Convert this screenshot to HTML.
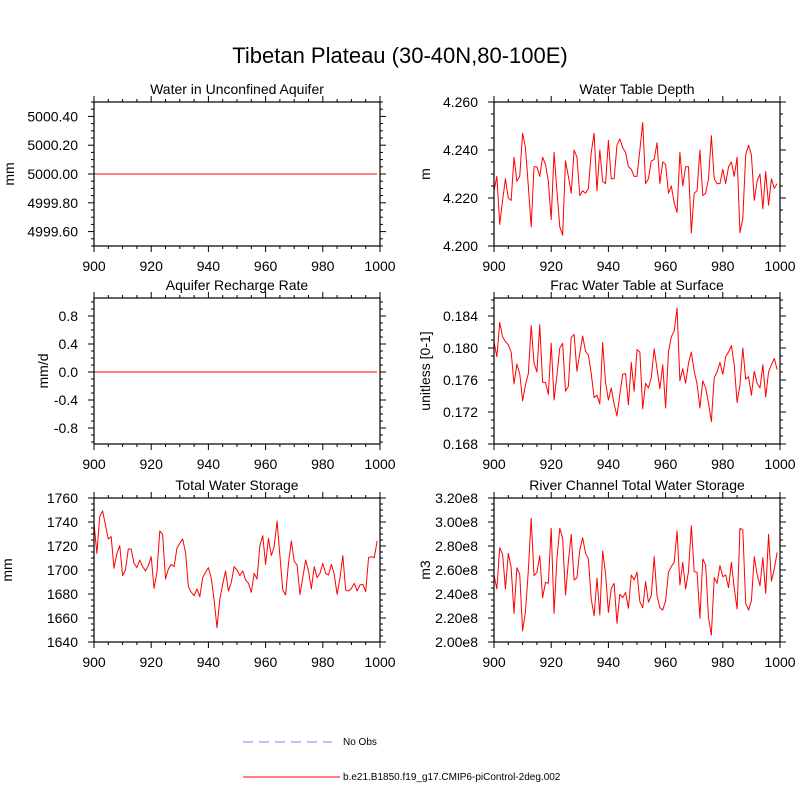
<!DOCTYPE html>
<html><head><meta charset="utf-8"><style>
body{margin:0;background:#fff}
svg text{font-family:"Liberation Sans",sans-serif;fill:#000}
</style></head><body>
<svg id="c" width="800" height="800" xmlns="http://www.w3.org/2000/svg">
<text x="400" y="63" font-size="22" text-anchor="middle">Tibetan Plateau (30-40N,80-100E)</text>
<g>
<line x1="243" y1="742" x2="332" y2="742" stroke="#9999ff" stroke-width="1.2" stroke-dasharray="10,6"/>
<text x="343" y="745" font-size="10">No Obs</text>
<line x1="243" y1="777" x2="340" y2="777" stroke="#ff0000" stroke-width="1"/>
<text x="343" y="780" font-size="10">b.e21.B1850.f19_g17.CMIP6-piControl-2deg.002</text>
</g>
</svg>
<script>
const years=[];for(let y=900;y<=999;y++)years.push(y);
const aquiferWater=new Array(100).fill(5000);
const rechargeRate=new Array(100).fill(0);
const tableDepth=[4.223,4.229,4.209,4.219,4.228,4.220,4.219,4.237,4.227,4.229,4.247,4.241,4.225,4.208,4.233,4.233,4.229,4.237,4.234,4.227,4.211,4.239,4.223,4.208,4.2045,4.2355,4.229,4.222,4.240,4.237,4.221,4.223,4.222,4.224,4.239,4.247,4.223,4.240,4.227,4.226,4.244,4.228,4.228,4.242,4.2446,4.241,4.239,4.233,4.232,4.229,
4.229,4.240,4.2514,4.226,4.228,4.2355,4.236,4.243,4.226,4.235,4.234,4.222,4.225,4.218,4.214,4.239,4.225,4.233,4.233,4.2055,4.222,4.223,4.240,4.221,4.222,4.228,4.246,4.228,4.226,4.226,4.232,4.226,4.233,4.235,4.229,4.237,4.2055,4.2115,4.238,4.242,4.238,4.219,4.227,4.230,4.2155,4.231,4.217,4.228,4.224,4.226];
const fracSurface=[0.1808,0.1789,0.1832,0.1814,0.1808,0.1804,0.1795,0.1755,0.1780,0.1768,0.1734,0.1754,0.1768,0.1828,0.1781,0.1770,0.1829,0.1757,0.1757,0.1742,0.1806,0.1735,0.1766,0.1800,0.1806,0.1746,0.1752,0.1813,0.1817,0.1771,0.1793,0.1815,0.1796,0.1791,0.1768,0.1738,0.1741,0.1730,0.1807,0.1757,0.1735,0.1750,0.1730,0.1715,0.1742,0.1767,0.1768,0.1729,0.1782,0.1746,
0.1798,0.1795,0.1724,0.1756,0.1750,0.1763,0.1799,0.1774,0.1749,0.1779,0.1725,0.1795,0.1814,0.1821,0.1850,0.1759,0.1774,0.1756,0.1781,0.1795,0.1771,0.1755,0.1725,0.1759,0.1750,0.1731,0.1708,0.1763,0.1770,0.1782,0.1767,0.1789,0.1795,0.1803,0.1779,0.1732,0.1754,0.1800,0.1761,0.1764,0.1741,0.1771,0.1756,0.1750,0.1779,0.1739,0.1770,0.1779,0.1787,0.1773];
const totalStorage=[1738.9,1713.9,1744.4,1749.2,1737.5,1725.8,1727.8,1701.4,1713.9,1720.3,1695.3,1700,1717.5,1717.5,1705.6,1702,1708.3,1702.8,1699.2,1703.6,1711.1,1684.7,1698.1,1732.5,1729.7,1692.5,1700.8,1704.7,1702.8,1718.1,1722.2,1725.8,1714.7,1686.1,1681.4,1678.6,1684.2,1677.8,1693.6,1698.1,1702,1693.1,1675,1651.9,1675.8,1688.1,1699.2,1682.5,1689.7,1702.8,
1700,1695.3,1699.2,1691.7,1688.9,1681.4,1697.2,1692.5,1720.3,1728.6,1704.7,1726.4,1712,1719.4,1740.8,1712,1683.3,1679.2,1705.6,1724.2,1707,1704.2,1679.7,1693.6,1708.3,1699.2,1684.2,1702.8,1693.6,1697.2,1705.6,1697.2,1695.8,1704.7,1696.4,1679.7,1693.1,1712,1683.3,1682.5,1684.7,1688.9,1682.5,1687.5,1688.1,1682,1710.3,1711.1,1710.3,1724.2];
const riverStorage=[2.558,2.442,2.786,2.731,2.442,2.739,2.619,2.239,2.619,2.564,2.092,2.253,2.592,3.031,2.553,2.581,2.719,2.369,2.497,2.489,2.947,2.239,2.692,2.947,2.864,2.392,2.669,2.897,2.517,2.536,2.767,2.869,2.739,2.692,2.358,2.219,2.531,2.225,2.758,2.572,2.247,2.447,2.489,2.156,2.397,2.369,2.414,2.281,2.558,2.517,
2.581,2.336,2.286,2.503,2.331,2.386,2.711,2.386,2.286,2.267,2.342,2.581,2.628,2.664,2.925,2.475,2.664,2.442,2.586,2.969,2.586,2.581,2.197,2.692,2.642,2.203,2.058,2.536,2.489,2.636,2.544,2.558,2.453,2.664,2.447,2.275,2.947,2.933,2.322,2.267,2.342,2.711,2.564,2.469,2.703,2.406,2.897,2.508,2.608,2.747];
const xTicks=[900,920,940,960,980,1000];
const ticksAquifer=[4999.6,4999.8,5000.0,5000.2,5000.4];
const labelsAquifer=["4999.60","4999.80","5000.00","5000.20","5000.40"];
const ticksRecharge=[-0.8,-0.4,0,0.4,0.8];
const labelsRecharge=["-0.8","-0.4","0.0","0.4","0.8"];
const ticksDepth=[4.20,4.22,4.24,4.26];
const labelsDepth=["4.200","4.220","4.240","4.260"];
const ticksFrac=[0.168,0.172,0.176,0.180,0.184];
const labelsFrac=["0.168","0.172","0.176","0.180","0.184"];
const ticksTotal=[1640,1660,1680,1700,1720,1740,1760];
const labelsTotal=["1640","1660","1680","1700","1720","1740","1760"];
const ticksRiver=[2.0,2.2,2.4,2.6,2.8,3.0,3.2];
const labelsRiver=["2.00e8","2.20e8","2.40e8","2.60e8","2.80e8","3.00e8","3.20e8"];

const NS="http://www.w3.org/2000/svg";
const svg=document.getElementById('c');
function mk(tag,attrs,parent){const e=document.createElementNS(NS,tag);for(const k in attrs)e.setAttribute(k,attrs[k]);(parent||svg).appendChild(e);return e;}

const panels=[
 {name:'aquifer-water',title:'Water in Unconfined Aquifer',x0:94,x1:380,y0:102,y1:246,ymin:4999.5,ymax:5000.5,ticks:ticksAquifer,labels:labelsAquifer,ystep:0.2,data:aquiferWater,ytitle:'mm',ytx:14},
 {name:'water-table-depth',title:'Water Table Depth',x0:494,x1:780,y0:102,y1:246,ymin:4.20,ymax:4.26,ticks:ticksDepth,labels:labelsDepth,ystep:0.02,data:tableDepth,ytitle:'m',ytx:430},
 {name:'recharge-rate',title:'Aquifer Recharge Rate',x0:94,x1:380,y0:298,y1:444,ymin:-1.0286,ymax:1.0571,ticks:ticksRecharge,labels:labelsRecharge,ystep:0.4,data:rechargeRate,ytitle:'mm/d',ytx:48},
 {name:'frac-water-table',title:'Frac Water Table at Surface',x0:494,x1:780,y0:298,y1:444,ymin:0.168,ymax:0.18625,ticks:ticksFrac,labels:labelsFrac,ystep:0.004,data:fracSurface,ytitle:'unitless [0-1]',ytx:430},
 {name:'total-water-storage',title:'Total Water Storage',x0:94,x1:380,y0:498,y1:642,ymin:1640,ymax:1760,ticks:ticksTotal,labels:labelsTotal,ystep:20,data:totalStorage,ytitle:'mm',ytx:12},
 {name:'river-storage',title:'River Channel Total Water Storage',x0:494,x1:780,y0:498,y1:642,ymin:2.0,ymax:3.2,ticks:ticksRiver,labels:labelsRiver,ystep:0.2,data:riverStorage,ytitle:'m3',ytx:430}
];
panels.forEach(p=>{
 const g=mk('g',{});
 
 
 const xs=v=>p.x0+(v-900)/100*(p.x1-p.x0);
 const ys=v=>p.y1-(v-p.ymin)/(p.ymax-p.ymin)*(p.y1-p.y0);
 const t=mk('text',{x:(p.x0+p.x1)/2,y:p.y0-8,'font-size':14,'text-anchor':'middle'},g);t.textContent=p.title;
 
 
 for(let v=900;v<=1000;v+=5){const major=v%20===0;const L=major?6:3;const x=xs(v);
  mk('line',{x1:x,y1:p.y1,x2:x,y2:p.y1+L,stroke:'#000','stroke-width':1},g);
  mk('line',{x1:x,y1:p.y0,x2:x,y2:p.y0-L,stroke:'#000','stroke-width':1},g);}
 xTicks.forEach(v=>{const l=mk('text',{x:xs(v),y:p.y1+25,'font-size':14,'text-anchor':'middle'},g);l.textContent=v;
  
  });
 const minor=p.ystep/4;
 for(let v=Math.ceil((p.ymin-1e-9)/minor)*minor;v<=p.ymax+1e-9;v+=minor){const y=ys(v);
  const isMaj=p.ticks.some(tv=>Math.abs(tv-v)<minor*0.1);const L=isMaj?6:3;
  mk('line',{x1:p.x0,y1:y,x2:p.x0-L,y2:y,stroke:'#000','stroke-width':1},g);
  mk('line',{x1:p.x1,y1:y,x2:p.x1+L,y2:y,stroke:'#000','stroke-width':1},g);}
 p.ticks.forEach((v,i)=>{const l=mk('text',{x:p.x0-16,y:ys(v)+5,'font-size':14,'text-anchor':'end'},g);l.textContent=p.labels[i];
  
  });
 const cy=(p.y0+p.y1)/2;
 const yt=mk('text',{x:p.ytx,y:cy,'font-size':14,'text-anchor':'middle',transform:`rotate(-90 ${p.ytx} ${cy})`},g);yt.textContent=p.ytitle;
 
 
 const pts=p.data.map((v,i)=>xs(years[i]).toFixed(2)+','+ys(v).toFixed(2)).join(' ');
 const pl=mk('polyline',{points:pts,fill:'none',stroke:'#ff0000','stroke-width':1,'stroke-linejoin':'round'},g);
 
 
 const fr=mk('rect',{x:p.x0,y:p.y0,width:p.x1-p.x0,height:p.y1-p.y0,fill:'none',stroke:'#000','stroke-width':1.2},g);
 
 
});
</script>
</body></html>
